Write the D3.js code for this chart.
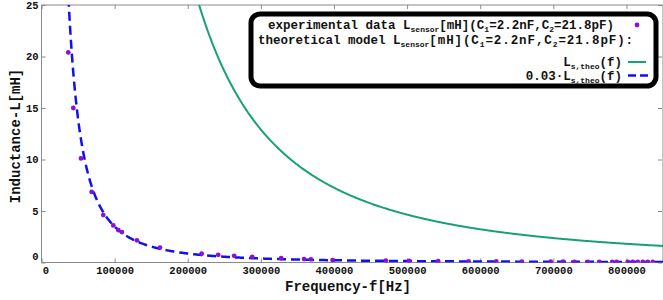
<!DOCTYPE html>
<html>
<head>
<meta charset="utf-8">
<script src="https://cdn.jsdelivr.net/npm/d3@7"></script>
<style>
  html, body { margin: 0; padding: 0; background: #fff; }
  svg { display: block; }
  text { font-family: "Liberation Mono", "DejaVu Sans Mono", monospace; font-weight: bold; }
</style>
</head>
<body>
<svg id="chart" width="663" height="300"></svg>
<script>
// ---- data ----
const measFreqHz = [36600, 43500, 54000, 68600, 84500, 98200, 105000, 110000, 130500, 162000,
  219000, 241700, 263500, 288200, 327800, 359100, 368400, 398100, 471000, 502800,
  542500, 584100, 622000, 656900, 696500, 713300, 728900, 747100, 762800, 780600,
  786700, 801800, 808600, 815500, 822300, 829100, 836000];
const measL_mH = [20.4, 15.0, 10.1, 6.85, 4.6, 3.6, 3.15, 2.95, 2.15, 1.45,
  0.85, 0.75, 0.65, 0.55, 0.42, 0.33, 0.31, 0.24, 0.18, 0.16,
  0.13, 0.11, 0.1, 0.09, 0.08, 0.075, 0.07, 0.065, 0.06, 0.06,
  0.06, 0.05, 0.05, 0.05, 0.05, 0.05, 0.05];
// model parameters (from legend)
const C1 = 2.2e-9;
const C2 = 21.8e-12;
const modelScale = 0.03;
const xTicks = [0, 100000, 200000, 300000, 400000, 500000, 600000, 700000, 800000];
const yTicks = [0, 5, 10, 15, 20, 25];

// theoretical model L = 1/((2 pi f)^2 C2), in mH
const Ltheo = f => 1000 / (Math.pow(2 * Math.PI * f, 2) * C2);

const svg = d3.select("#chart");
const L = 41.5, R = 663, T = 5, B = 262.5;
const x = d3.scaleLinear().domain([0, 850000]).range([L, R]);
const y = d3.scaleLinear().domain([0, 25]).range([B, T]);

svg.append("defs").append("clipPath").attr("id", "clip")
  .append("rect").attr("x", L).attr("y", T).attr("width", R - L).attr("height", B - T);

// frame
const frameColor = "#8a8a8a";
const frame = svg.append("g");
frame.append("rect").attr("x", L).attr("y", T).attr("width", R - L).attr("height", B - T)
  .attr("fill", "none").attr("stroke", frameColor).attr("stroke-width", 1);

// x ticks (bottom + top, inward)
const xAxisB = d3.axisBottom(x).tickValues(xTicks).tickSize(-4).tickFormat(d => d);
const gxb = svg.append("g").attr("transform", `translate(0,${B})`).call(xAxisB);
gxb.select(".domain").remove();
gxb.selectAll("line").attr("stroke", frameColor);
gxb.selectAll("text").attr("font-size", 10.5).attr("fill", "#111").attr("dy", "0.3em").attr("y", 8)
  .attr("dx", d => d === 0 ? 4 : 0);
const xAxisT = d3.axisTop(x).tickValues(xTicks).tickSize(-4).tickFormat("");
const gxt = svg.append("g").attr("transform", `translate(0,${T})`).call(xAxisT);
gxt.select(".domain").remove();
gxt.selectAll("line").attr("stroke", frameColor);

// y ticks (left + right, inward)
const yAxisL = d3.axisLeft(y).tickValues(yTicks).tickSize(-4).tickFormat(d => d);
const gyl = svg.append("g").attr("transform", `translate(${L},0)`).call(yAxisL);
gyl.select(".domain").remove();
gyl.selectAll("line").attr("stroke", frameColor);
gyl.selectAll("text").attr("font-size", 10.5).attr("fill", "#111").attr("x", -3)
  .attr("dy", d => d === 0 ? "-0.25em" : "0.32em");
const yAxisR = d3.axisRight(y).tickValues(yTicks).tickSize(-4).tickFormat("");
const gyr = svg.append("g").attr("transform", `translate(${R - 1},0)`).call(yAxisR);
gyr.select(".domain").remove();
gyr.selectAll("line").attr("stroke", frameColor);

// curves
const sampleF = d3.range(20000, 850001, 1000);
const line = d3.line().x(d => x(d[0])).y(d => y(d[1]));
const plot = svg.append("g").attr("clip-path", "url(#clip)");
plot.append("path")
  .datum(sampleF.map(f => [f, Math.min(Ltheo(f), 40)]))
  .attr("d", line).attr("fill", "none").attr("stroke", "#18a07a").attr("stroke-width", 2);
plot.append("path")
  .datum(sampleF.map(f => [f, Math.min(modelScale * Ltheo(f), 40)]))
  .attr("d", line).attr("fill", "none").attr("stroke", "#1010f0").attr("stroke-width", 2.5)
  .attr("stroke-dasharray", "9,5");

// measured points
plot.selectAll("circle.pt").data(measFreqHz).enter().append("circle")
  .attr("class", "pt")
  .attr("cx", d => x(d)).attr("cy", (d, i) => y(measL_mH[i]))
  .attr("r", 2.4).attr("fill", "#8c10d8");

// axis titles
svg.append("text").attr("x", 348).attr("y", 291).attr("text-anchor", "middle")
  .attr("font-size", 14).attr("fill", "#111").text("Frequency-f[Hz]");
svg.append("text").attr("transform", "translate(20,136) rotate(-90)").attr("text-anchor", "middle")
  .attr("font-size", 14).attr("fill", "#111").text("Inductance-L[mH]");

// legend
const lg = svg.append("g");
lg.append("rect").attr("x", 251).attr("y", 14).attr("width", 405).attr("height", 72)
  .attr("rx", 9).attr("fill", "#fff").attr("stroke", "#000").attr("stroke-width", 5);

function richLine(g, xPos, yPos, anchor, parts, tailSpacing) {
  const t = g.append("text").attr("x", xPos).attr("y", yPos).attr("text-anchor", anchor)
    .attr("font-size", 12.5).attr("fill", "#111");
  parts.forEach((p, i) => {
    const s = t.append("tspan").text(p[0]);
    if (p[1] === "sub") s.attr("font-size", 8).attr("baseline-shift", "-3");
    if (tailSpacing && i >= 2) s.attr("letter-spacing", tailSpacing);
  });
  return t;
}
richLine(lg, 268, 29, "start", [["experimental data L"], ["sensor", "sub"], ["[mH](C"], ["1", "sub"],
  ["=2.2nF,C"], ["2", "sub"], ["=21.8pF)"]]);
richLine(lg, 258, 43.5, "start", [["theoretical model L"], ["sensor", "sub"], ["[mH](C"], ["1", "sub"],
  ["=2.2nF,C"], ["2", "sub"], ["=21.8pF):"]], 0.9);
richLine(lg, 622, 66, "end", [["L"], ["s,theo", "sub"], ["(f)"]]);
richLine(lg, 622, 79.5, "end", [["0.03·L"], ["s,theo", "sub"], ["(f)"]]);
lg.append("circle").attr("cx", 637).attr("cy", 25).attr("r", 2.4).attr("fill", "#8c10d8");
lg.append("line").attr("x1", 628).attr("x2", 646).attr("y1", 62).attr("y2", 62)
  .attr("stroke", "#18a07a").attr("stroke-width", 2);
lg.append("line").attr("x1", 628).attr("x2", 648).attr("y1", 75.5).attr("y2", 75.5)
  .attr("stroke", "#1010f0").attr("stroke-width", 2.5).attr("stroke-dasharray", "8,4");
</script>
</body>
</html>
